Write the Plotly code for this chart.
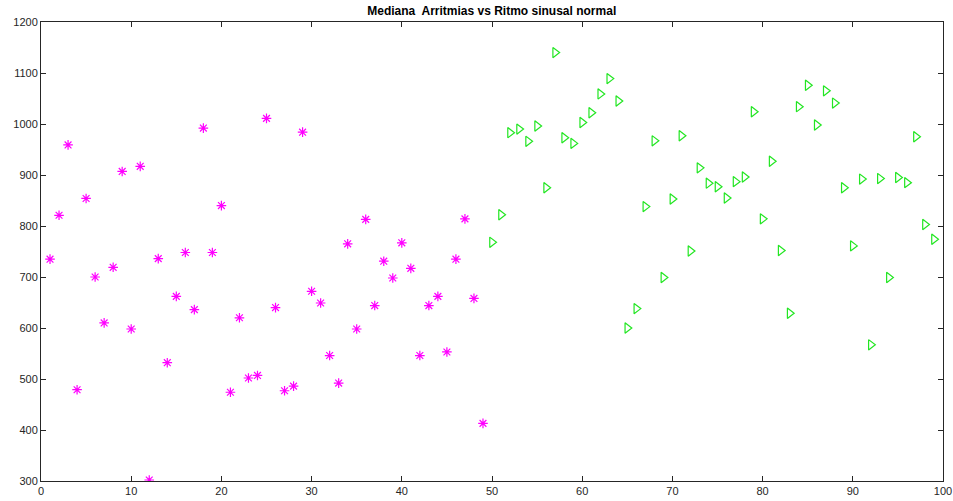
import plotly.graph_objects as go

x_arr = list(range(1, 50))
y_arr = [735, 821, 959, 479, 854, 700, 610, 719, 907, 598,
         917, 302, 736, 532, 662, 748, 636, 992, 748, 840,
         474, 620, 502, 507, 1011, 640, 477, 486, 984, 672,
         649, 546, 492, 765, 598, 813, 644, 731, 698, 767,
         717, 546, 644, 662, 553, 735, 814, 658, 413]

x_rsn = list(range(50, 100))
y_rsn = [768, 822, 983, 990, 966, 996, 875, 1140, 973, 962,
         1003, 1022, 1059, 1089, 1045, 600, 638, 838, 967, 699,
         853, 977, 751, 914, 884, 877, 855, 887, 896, 1024,
         814, 927, 752, 629, 1034, 1076, 998, 1065, 1041, 875,
         761, 892, 567, 893, 699, 895, 885, 975, 803, 774]

x_ticks = list(range(0, 101, 10))
y_ticks = list(range(300, 1201, 100))

title_text = "Mediana\u00a0 Arritmias vs Ritmo sinusal normal"

fig = go.Figure()
fig.add_trace(go.Scatter(
    x=x_arr, y=y_arr, mode="markers", name="Arritmias",
    marker=dict(symbol="asterisk-open", size=8, color="#FF00FF",
                line=dict(color="#FF00FF", width=1.2)),
))
fig.add_trace(go.Scatter(
    x=x_rsn, y=y_rsn, mode="markers", name="Ritmo sinusal normal",
    marker=dict(symbol="triangle-right-open", size=9, color="#22E622",
                line=dict(color="#22E622", width=1.2)),
))

axis_common = dict(
    automargin=False,
    showgrid=False, zeroline=False, showline=True, linecolor="#262626",
    linewidth=1, mirror="ticks", ticks="inside", ticklen=5,
    tickcolor="#262626", tickwidth=1,
    tickfont=dict(family="Liberation Sans, Arial, sans-serif", size=11,
                  color="#262626"),
)

fig.update_layout(
    width=953, height=501,
    margin=dict(l=41, r=10, t=22, b=20),
    paper_bgcolor="white", plot_bgcolor="white",
    showlegend=False,
    title=dict(text="<b>" + title_text + "</b>", x=0.5160, xanchor="center",
               y=0.978, yanchor="middle", automargin=False,
               font=dict(family="Liberation Sans, Arial, sans-serif", size=12,
                         color="black")),
    xaxis=dict(range=[0, 100], tickvals=x_ticks, **axis_common),
    yaxis=dict(range=[300, 1200], tickvals=y_ticks, **axis_common),
)

fig.write_html("out.html")
